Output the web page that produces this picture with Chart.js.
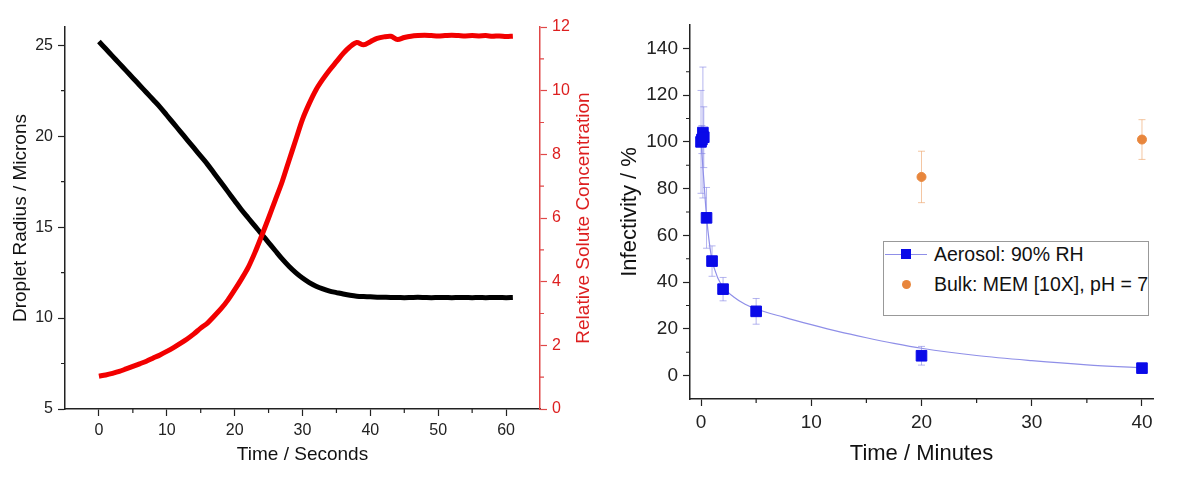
<!DOCTYPE html>
<html>
<head>
<meta charset="utf-8">
<script src="https://cdn.jsdelivr.net/npm/chart.js@4.4.1/dist/chart.umd.min.js"></script>
<style>
  body { margin: 0; background: #fff; }
  #wrap { position: relative; width: 1200px; height: 498px; font-family: "Liberation Sans", Arial, sans-serif; }
  .box { position: absolute; top: 0; width: 600px; height: 498px; }
  #legend { position: absolute; left: 883px; top: 241px; width: 264px; height: 73px; border: 1px solid #999; background: #fff; font-size: 19.5px; color: #111; }
  #legend .row { position: absolute; left: 50px; height: 24px; line-height: 24px; white-space: nowrap; }
  #legend .sym { position: absolute; left: -49px; top: 0; width: 42px; height: 24px; }
  #legend .ln { position: absolute; left: 0; top: 11.5px; width: 42px; height: 1px; }
  #legend .mk { position: absolute; }
</style>
</head>
<body>
<div id="wrap">
  <div class="box" style="left:0"><canvas id="dropletChart" width="600" height="498"></canvas></div>
  <div class="box" style="left:600px"><canvas id="infectChart" width="600" height="498"></canvas></div>
  <div id="legend"></div>
</div>
<script>
// left panel: droplet evaporation
const timeSec = [0, 1, 2, 3, 4, 5, 6, 7, 8, 9, 10, 11, 12, 13, 14, 15, 16, 17, 18, 19, 20,
  21, 22, 23, 24, 25, 26, 27, 28, 29, 30, 31, 32, 33, 34, 35, 36, 37, 38, 39, 40,
  41, 42, 43, 44, 45, 46, 47, 48, 49, 50, 51, 52, 53, 54, 55, 56, 57, 58, 59, 60, 61];
const radius = [25.2, 24.8, 24.4, 24.0, 23.6, 23.2, 22.8, 22.4, 22.0, 21.6, 21.15,
  20.7, 20.25, 19.8, 19.35, 18.9, 18.45, 17.95, 17.45, 16.95, 16.45,
  15.95, 15.5, 15.05, 14.6, 14.15, 13.7, 13.25, 12.85, 12.5, 12.2,
  11.95, 11.75, 11.6, 11.48, 11.4, 11.32, 11.25, 11.2, 11.18, 11.17,
  11.15, 11.14, 11.13, 11.13, 11.12, 11.13, 11.14, 11.13, 11.12, 11.13,
  11.13, 11.12, 11.13, 11.13, 11.12, 11.13, 11.12, 11.13, 11.13, 11.12, 11.13];
const concentration = [1.03, 1.07, 1.12, 1.18, 1.26, 1.34, 1.42, 1.5, 1.6, 1.7, 1.81,
  1.93, 2.06, 2.2, 2.36, 2.54, 2.7, 2.92, 3.15, 3.42, 3.74,
  4.08, 4.45, 4.92, 5.45, 6.0, 6.57, 7.14, 7.8, 8.45, 9.1,
  9.6, 10.03, 10.36, 10.65, 10.91, 11.17, 11.38, 11.51, 11.44, 11.54,
  11.64, 11.69, 11.71, 11.61, 11.67, 11.71, 11.73, 11.74, 11.73, 11.72,
  11.73, 11.74, 11.73, 11.72, 11.73, 11.72, 11.73, 11.71, 11.72, 11.70, 11.71];
const secTicks = [0, 10, 20, 30, 40, 50, 60];
const radiusTicks = [5, 10, 15, 20, 25];
const concTicks = [0, 2, 4, 6, 8, 10, 12];

// right panel: infectivity
const aerosolTime = [0, 0.08, 0.17, 0.25, 0.5, 1, 2, 5, 20, 40];
const aerosol = [100, 101, 104, 102, 67.5, 49, 37, 27.5, 8.5, 3.2];
const aerosolErr = [22, 6, 28, 13, 13, 6.5, 5, 5.5, 4, 1];
const bulkTime = [20, 40];
const bulk = [85, 101];
const bulkErr = [11, 8.5];
const fitTime = [0, 0.25, 0.5, 0.75, 1, 1.5, 2, 3, 4, 5, 7.5, 10, 12.5, 15, 17.5, 20, 25, 30, 35, 40];
const fitValues = [100, 84, 68, 57, 49.5, 42, 38, 33.5, 30.5, 28.5, 25, 21.8, 18.8, 16.2, 13.8, 11.7, 8.6, 6.4, 4.6, 3.3];
const minTicks = [0, 10, 20, 30, 40];
const infectTicks = [0, 20, 40, 60, 80, 100, 120, 140];

const fontFamily = '"Liberation Sans", Arial, sans-serif';
Chart.defaults.font.family = fontFamily;

const pts = (xs, ys) => xs.map((x, i) => ({ x: x, y: ys[i] }));
const fixTicks = (vals) => (s) => { s.ticks = vals.map(v => ({ value: v })); };

// short unlabeled ticks between the major ones
const minorTicks = {
  id: 'minorTicks',
  afterDraw(chart, args, opts) {
    const ctx = chart.ctx;
    const len = opts.length || 4;
    Object.keys(opts.steps || {}).forEach(id => {
      const s = chart.scales[id];
      const step = opts.steps[id];
      ctx.save();
      ctx.strokeStyle = s.options.border.color;
      ctx.lineWidth = 1.2;
      ctx.beginPath();
      for (let v = Math.ceil(s.min / step) * step; v < s.max; v += step) {
        if (v <= s.min || s.ticks.some(t => Math.abs(t.value - v) < 1e-9)) continue;
        const p = s.getPixelForValue(v);
        if (s.isHorizontal()) {
          ctx.moveTo(p, s.top); ctx.lineTo(p, s.top + len);
        } else if (s.position === 'left') {
          ctx.moveTo(s.right, p); ctx.lineTo(s.right - len, p);
        } else {
          ctx.moveTo(s.left, p); ctx.lineTo(s.left + len, p);
        }
      }
      ctx.stroke();
      ctx.restore();
    });
  }
};

// right-hand axis title that reads bottom to top (chart.js turns it the other way)
const upTitle = {
  id: 'upTitle',
  afterDraw(chart, args, opts) {
    if (!opts.axis) return;
    const s = chart.scales[opts.axis];
    const t = s.options.title;
    const ctx = chart.ctx;
    ctx.save();
    ctx.translate(s.right - opts.offset, (s.top + s.bottom) / 2);
    ctx.rotate(-Math.PI / 2);
    ctx.font = opts.size + 'px ' + fontFamily;
    ctx.fillStyle = t.color;
    ctx.textAlign = 'center';
    ctx.textBaseline = 'middle';
    ctx.fillText(t.text, 0, 0);
    ctx.restore();
  }
};

const errorBars = {
  id: 'errorBars',
  beforeDatasetsDraw(chart) {
    const { ctx, scales: { x, y } } = chart;
    chart.data.datasets.forEach(ds => {
      if (!ds.errors) return;
      ctx.save();
      ctx.strokeStyle = ds.errorColor;
      ctx.lineWidth = 1;
      ds.data.forEach((pt, i) => {
        const px = x.getPixelForValue(pt.x);
        const top = y.getPixelForValue(pt.y + ds.errors[i]);
        const bot = y.getPixelForValue(pt.y - ds.errors[i]);
        ctx.beginPath();
        ctx.moveTo(px, top); ctx.lineTo(px, bot);
        ctx.moveTo(px - 3.5, top); ctx.lineTo(px + 3.5, top);
        ctx.moveTo(px - 3.5, bot); ctx.lineTo(px + 3.5, bot);
        ctx.stroke();
      });
      ctx.restore();
    });
  }
};

function axis(o) {
  return {
    type: 'linear',
    position: o.position,
    min: o.min,
    max: o.max,
    afterBuildTicks: fixTicks(o.ticks),
    afterFit: o.fit,
    grid: { drawOnChartArea: false, drawTicks: true, tickLength: 7, color: o.color, tickWidth: 1.2 },
    border: { display: true, color: o.color, width: 1.5 },
    ticks: { color: o.labelColor || '#222', font: { size: o.fontSize }, padding: o.pad },
    title: { display: o.titleShown !== false, text: o.title, color: o.labelColor || '#111', font: { size: o.titleSize }, padding: o.titlePad }
  };
}

new Chart(document.getElementById('dropletChart'), {
  type: 'scatter',
  data: {
    datasets: [
      { label: 'Relative Solute Concentration', data: pts(timeSec, concentration), yAxisID: 'y1',
        showLine: true, borderColor: '#f20000', borderWidth: 5, pointRadius: 0, tension: 0.3 },
      { label: 'Droplet Radius', data: pts(timeSec, radius), yAxisID: 'y',
        showLine: true, borderColor: '#000000', borderWidth: 5, pointRadius: 0, tension: 0.3 }
    ]
  },
  options: {
    responsive: false,
    animation: false,
    layout: { padding: { top: 27, left: 0, right: 0, bottom: 0 } },
    plugins: {
      legend: { display: false },
      tooltip: { enabled: false },
      minorTicks: { steps: { x: 5, y: 2.5, y1: 1 }, length: 4 },
      upTitle: { axis: 'y1', offset: 16, size: 19 }
    },
    scales: {
      x: axis({ position: 'bottom', min: -5, max: 65, ticks: secTicks, color: '#222', fontSize: 16, pad: 5,
        title: 'Time / Seconds', titleSize: 19, titlePad: { top: 0, bottom: 32 },
        fit: s => { s.height = 89; } }),
      y: axis({ position: 'left', min: 5, max: 26, ticks: radiusTicks, color: '#222', fontSize: 16, pad: 5,
        title: 'Droplet Radius / Microns', titleSize: 19, titlePad: { top: 9, bottom: 0 },
        fit: s => { s.width = 65; } }),
      y1: axis({ position: 'right', min: 0, max: 12, ticks: concTicks, color: '#e04848', labelColor: '#dd1f1f',
        fontSize: 16, pad: 5, title: 'Relative Solute Concentration', titleSize: 19, titleShown: false,
        fit: s => { s.width = 60; } })
    }
  },
  plugins: [minorTicks, upTitle]
});

const infectChart = new Chart(document.getElementById('infectChart'), {
  type: 'scatter',
  data: {
    datasets: [
      { label: 'Aerosol: 90% RH', data: pts(aerosolTime, aerosol), errors: aerosolErr, errorColor: 'rgba(120,120,225,0.55)',
        backgroundColor: '#0a0ae8', borderColor: '#0a0ae8', pointStyle: 'rect', pointRadius: 7.5, legendLine: '#8f8fe8' },
      { label: 'Bulk: MEM [10X], pH = 7', data: pts(bulkTime, bulk), errors: bulkErr, errorColor: 'rgba(236,160,100,0.6)',
        backgroundColor: '#e8863c', borderColor: '#e8863c', pointStyle: 'circle', pointRadius: 4.5 },
      { label: 'fit', data: pts(fitTime, fitValues), showLine: true, borderColor: '#8f8fe8', borderWidth: 1.2,
        pointRadius: 0, cubicInterpolationMode: 'monotone', hideInLegend: true }
    ]
  },
  options: {
    responsive: false,
    animation: false,
    layout: { padding: { top: 25, left: 0, right: 47, bottom: 0 } },
    plugins: {
      legend: { display: false },
      tooltip: { enabled: false },
      minorTicks: { steps: { x: 5, y: 10 }, length: 4 }
    },
    scales: {
      x: axis({ position: 'bottom', min: -1, max: 41, ticks: minTicks, color: '#222', fontSize: 19, pad: 5,
        title: 'Time / Minutes', titleSize: 22, titlePad: { top: 0, bottom: 31 },
        fit: s => { s.height = 99; } }),
      y: axis({ position: 'left', min: -10, max: 150, ticks: infectTicks, color: '#222', fontSize: 19, pad: 5,
        title: 'Infectivity / %', titleSize: 22, titlePad: { top: 17, bottom: 0 },
        fit: s => { s.width = 90; } })
    }
  },
  plugins: [errorBars, minorTicks]
});

// legend box built from the dataset labels
const legend = document.getElementById('legend');
infectChart.data.datasets.filter(ds => !ds.hideInLegend).forEach((ds, i) => {
  const row = document.createElement('div');
  row.className = 'row';
  row.style.top = (i * 30) + 'px';
  const sym = document.createElement('span');
  sym.className = 'sym';
  if (ds.legendLine) {
    const ln = document.createElement('i');
    ln.className = 'ln';
    ln.style.background = ds.legendLine;
    sym.appendChild(ln);
  }
  const mk = document.createElement('i');
  mk.className = 'mk';
  const size = ds.pointStyle === 'rect' ? 10 : 9;
  mk.style.width = size + 'px';
  mk.style.height = size + 'px';
  mk.style.left = (21 - size / 2) + 'px';
  mk.style.top = (12 - size / 2) + 'px';
  mk.style.background = ds.backgroundColor;
  if (ds.pointStyle === 'circle') mk.style.borderRadius = '50%';
  sym.appendChild(mk);
  row.appendChild(sym);
  row.appendChild(document.createTextNode(ds.label));
  legend.appendChild(row);
});
</script>
</body>
</html>
